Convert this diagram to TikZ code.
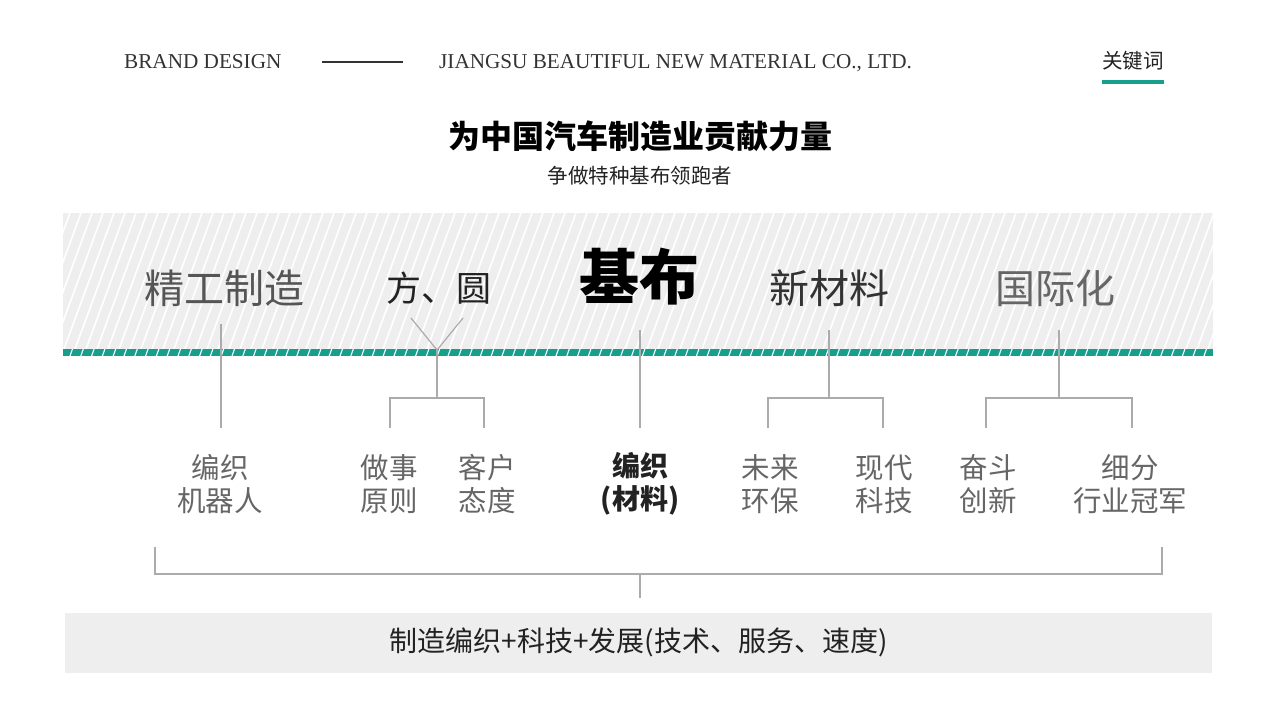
\documentclass[tikz,border=0pt]{standalone}
\usepackage{fontspec}
\setmainfont{Liberation Serif}
\newfontfamily\cjk{Noto Sans CJK SC}
\definecolor{teal1}{HTML}{16A08C}
\definecolor{band}{HTML}{EEEEEE}
\definecolor{conn}{HTML}{ABABAB}
\definecolor{g22}{HTML}{222222}
\definecolor{g33}{HTML}{333333}
\definecolor{g55}{HTML}{555555}
\definecolor{g66}{HTML}{666666}
\tikzset{
  hdr/.style={font=\fontsize{21.2}{24}\selectfont, text=g33, inner sep=0, anchor=base west},
  big/.style={font=\cjk\fontsize{40}{44}\selectfont, inner sep=0},
  lab/.style={font=\cjk\fontsize{28.5}{33}\selectfont, text=g66, align=center, inner sep=0},
  wire/.style={draw=conn, line width=1.2pt},
}
\begin{document}
\begin{tikzpicture}[x=1pt,y=-1pt]
\useasboundingbox (0,0) rectangle (1280,720);
% header
\node[hdr] (brand) at (124,68) {BRAND DESIGN};
\coordinate (hl1) at (322,62);
\coordinate (hl2) at (403,62);
\draw[g33, line width=1.2pt] (hl1) -- (hl2);
\node[hdr] (comp) at (439,68) {JIANGSU BEAUTIFUL NEW MATERIAL CO., LTD.};
\node[font=\cjk\fontsize{20.5}{24}\selectfont, text=g22, inner sep=0] (kw) at (1133,61) {关键词};
\fill[teal1] (1102,79.5) rectangle (1164,83.5);
% title
\node[font=\cjk\bfseries\fontsize{32}{36}\selectfont, text=black, inner sep=0] (title) at (640,136) {为中国汽车制造业贡献力量};
\node[font=\cjk\fontsize{20.5}{24}\selectfont, text=g22, inner sep=0] (sub) at (640,176) {争做特种基布领跑者};
% hatched band
\fill[band] (63,213) rectangle (1213,349);
\begin{scope}
\clip (63,213) rectangle (1213,349);
\foreach \i in {0,...,110} {
  \draw[white, line width=1.6pt] (20+\i*11,349) -- (20+\i*11+50,213);
}
\end{scope}
% teal strip
\fill[teal1] (63,349) rectangle (1213,356);
\begin{scope}
\clip (63,349) rectangle (1213,356);
\foreach \i in {0,...,106} {
  \draw[white, line width=1.1pt] (70+\i*10.8,356) -- (72.5+\i*10.8,349);
}
\end{scope}
% big words
\node[big, text=g55] (w1) at (224,288) {精工制造};
\node[big, text=g22, font=\cjk\fontsize{35}{40}\selectfont] (w2) at (439,288) {方、圆};
\node[big, text=black, font=\cjk\bfseries\fontsize{60}{66}\selectfont] (w3) at (639,277) {基布};
\node[big, text=g33] (w4) at (829,288) {新材料};
\node[big, text=g66] (w5) at (1055,288) {国际化};
% labels
\node[lab] (l1) at (220,484) {编织\\机器人};
\node[lab] (l2) at (389,484) {做事\\原则};
\node[lab] (l3) at (487,484) {客户\\态度};
\node[lab, text=g22, font=\cjk\bfseries\fontsize{28}{33}\selectfont] (l4) at (640,484) {编织\\(材料)};
\node[lab] (l5) at (770,484) {未来\\环保};
\node[lab] (l6) at (884,484) {现代\\科技};
\node[lab] (l7) at (988,484) {奋斗\\创新};
\node[lab] (l8) at (1130,484) {细分\\行业冠军};
% connectors
\coordinate (a1) at (221,324); \coordinate (b1) at (221,428);
\draw[wire] (a1) -- (b1);
\coordinate (v1) at (411,318); \coordinate (v2) at (463,318); \coordinate (vj) at (437,350);
\coordinate (h2) at (437,398); \coordinate (h2l) at (390,398); \coordinate (h2r) at (484,398);
\coordinate (e2l) at (390,428); \coordinate (e2r) at (484,428);
\draw[wire] (v1) -- (vj) -- (v2);
\draw[wire] (vj) -- (h2);
\draw[wire] (e2l) -- (h2l) -- (h2r) -- (e2r);
\coordinate (a3) at (640,330); \coordinate (b3) at (640,428);
\draw[wire] (a3) -- (b3);
\coordinate (a4) at (829,330); \coordinate (h4) at (829,398);
\coordinate (h4l) at (768,398); \coordinate (h4r) at (883,398);
\coordinate (e4l) at (768,428); \coordinate (e4r) at (883,428);
\draw[wire] (a4) -- (h4);
\draw[wire] (e4l) -- (h4l) -- (h4r) -- (e4r);
\coordinate (a5) at (1059,330); \coordinate (h5) at (1059,398);
\coordinate (h5l) at (986,398); \coordinate (h5r) at (1132,398);
\coordinate (e5l) at (986,428); \coordinate (e5r) at (1132,428);
\draw[wire] (a5) -- (h5);
\draw[wire] (e5l) -- (h5l) -- (h5r) -- (e5r);
% bracket
\coordinate (bl) at (155,547); \coordinate (blc) at (155,574);
\coordinate (br) at (1162,547); \coordinate (brc) at (1162,574);
\coordinate (bm) at (640,574); \coordinate (bs) at (640,598);
\draw[wire] (bl) -- (blc) -- (brc) -- (br);
\draw[wire] (bm) -- (bs);
% bottom box
\fill[band] (65,613) rectangle (1212,673);
\node[font=\cjk\fontsize{28}{32}\selectfont, text=g22, inner sep=0] (sum) at (638.5,642) {制造编织+科技+发展(技术、服务、速度)};
\end{tikzpicture}
\end{document}
